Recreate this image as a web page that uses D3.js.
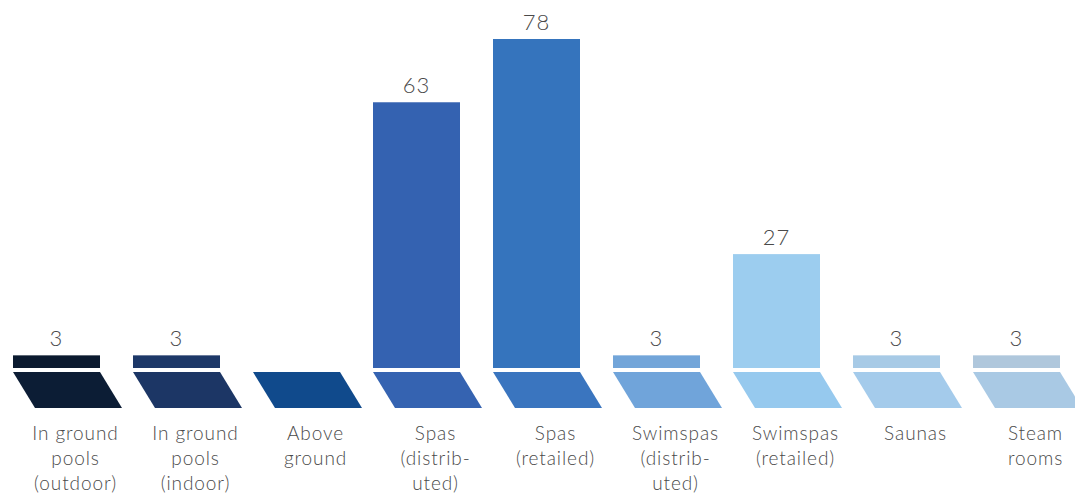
<!DOCTYPE html>
<html>
<head>
<meta charset="utf-8">
<script src="https://cdn.jsdelivr.net/npm/d3@7"></script>
<style>
  html, body { margin: 0; padding: 0; background: #ffffff; }
  svg { display: block; }
  text { font-family: Lato, "Open Sans", sans-serif; font-weight: 300; fill: #4a4a4a; }
</style>
</head>
<body>
<svg id="chart" width="1075" height="495"></svg>
<script>
// Product categories, one column each
const categories = [
  "In ground pools (outdoor)",
  "In ground pools (indoor)",
  "Above ground",
  "Spas (distributed)",
  "Spas (retailed)",
  "Swimspas (distributed)",
  "Swimspas (retailed)",
  "Saunas",
  "Steam rooms"
];
// Wrapped label lines shown under each column
const labelLines = [
  ["In ground", "pools", "(outdoor)"],
  ["In ground", "pools", "(indoor)"],
  ["Above", "ground"],
  ["Spas", "(distrib-", "uted)"],
  ["Spas", "(retailed)"],
  ["Swimspas", "(distrib-", "uted)"],
  ["Swimspas", "(retailed)"],
  ["Saunas"],
  ["Steam", "rooms"]
];
// Values per category (null = no bar shown)
const values = [3, 3, null, 63, 78, 3, 27, 3, 3];
// Column colours: upright bar and its floor tile
const barColors   = ["#0b1a2f", "#1d3868", "#104a8c", "#3462b1", "#3574bd", "#72a5d9", "#9ccdef", "#a7cae6", "#afc7dc"];
const floorColors = ["#0c1d35", "#1c3665", "#104a8c", "#3563b1", "#3a75bf", "#70a4da", "#96c9ee", "#a4cbeb", "#a9c9e4"];

const svg = d3.select("#chart");

const x = d3.scaleBand()
  .domain(categories)
  .range([13, 1060])
  .paddingInner(0.275)
  .paddingOuter(0);

const y = d3.scaleLinear()
  .domain([0, 78])
  .range([368, 39]);

const bw = x.bandwidth();
const floorTop = 372, floorBottom = 408, slant = 22;

const data = categories.map((c, i) => ({
  cat: c, value: values[i], bar: barColors[i], floor: floorColors[i], lines: labelLines[i]
}));

// Floor tiles (parallelograms)
svg.append("g").selectAll("path")
  .data(data)
  .join("path")
  .attr("d", d => {
    const x0 = x(d.cat);
    return `M${x0},${floorTop}L${x0 + bw},${floorTop}L${x0 + bw + slant},${floorBottom}L${x0 + slant},${floorBottom}Z`;
  })
  .attr("fill", d => d.floor);

const withValue = data.filter(d => d.value != null);

// Upright bars
svg.append("g").selectAll("rect")
  .data(withValue)
  .join("rect")
  .attr("x", d => x(d.cat))
  .attr("y", d => y(d.value))
  .attr("width", bw)
  .attr("height", d => y(0) - y(d.value))
  .attr("fill", d => d.bar);

// Value labels above bars
svg.append("g").selectAll("text")
  .data(withValue)
  .join("text")
  .attr("x", d => x(d.cat) + bw / 2)
  .attr("y", d => y(d.value) - 9)
  .attr("text-anchor", "middle")
  .style("font-size", "22px")
  .style("letter-spacing", "1px")
  .text(d => d.value);

// Category labels below floor tiles
const lab = svg.append("g").selectAll("text")
  .data(data)
  .join("text")
  .attr("text-anchor", "middle")
  .attr("transform", d => `translate(${x(d.cat) + bw / 2 + 19},440)`)
  .style("font-size", "19px")
  .style("letter-spacing", "0.9px");

lab.selectAll("tspan")
  .data(d => d.lines)
  .join("tspan")
  .attr("x", 0)
  .attr("y", (d, i) => i * 25)
  .text(d => d);
</script>
</body>
</html>
